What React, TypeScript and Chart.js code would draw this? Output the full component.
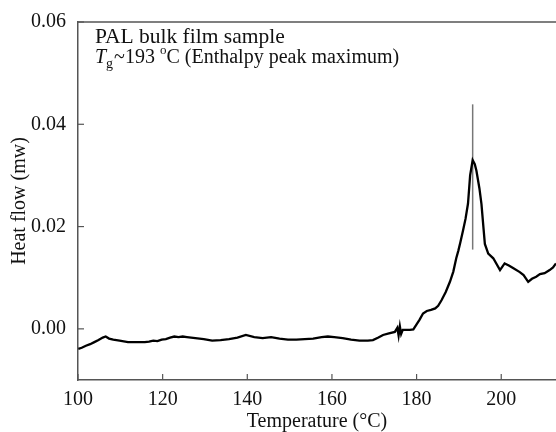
import React, { useEffect, useRef } from "react";
import { Chart, registerables } from "chart.js";

Chart.register(...registerables);

const temperature = [
  100.08, 100.88, 101.87, 102.87, 103.86, 104.85, 105.85, 106.54, 107.34, 108.33, 109.82, 111.81,
  113.8, 115.79, 116.79, 117.78, 118.77, 119.77, 120.76, 121.76, 122.75, 123.75, 124.74, 125.73,
  127.72, 129.71, 131.7, 133.69, 135.68, 137.67, 139.66, 141.64, 143.63, 145.62, 147.61, 149.6,
  151.59, 153.58, 155.56, 157.55, 159.04, 160.54, 162.53, 164.52, 166.5, 168.49, 169.69, 170.98,
  172.07, 173.47, 174.86, 175.45, 175.75, 176.05, 176.35, 176.74, 177.44, 178.43, 179.23, 179.92,
  180.72, 181.52, 182.41, 183.41, 184.4, 185.1, 185.89, 186.89, 187.88, 188.68, 189.37, 189.87,
  190.36, 190.96, 191.56, 192.15, 192.65, 193.25, 193.75, 194.14, 194.84, 195.33, 195.83, 196.13,
  196.93, 198.12, 199.71, 200.8, 201.8, 202.79, 204.38, 205.28, 206.37, 207.26, 208.26, 209.15,
  210.25, 211.44, 212.24, 212.94,
];

const heatFlow = [
  -0.0039, -0.0037, -0.0033, -0.003, -0.0026, -0.0022, -0.0017, -0.0015, -0.0019, -0.0021, -0.0023,
  -0.0026, -0.0026, -0.0026, -0.0025, -0.0023, -0.0024, -0.0021, -0.002, -0.0017, -0.0015, -0.0016,
  -0.0015, -0.0016, -0.0018, -0.002, -0.0023, -0.0022, -0.002, -0.0017, -0.0012, -0.0016, -0.0018,
  -0.0016, -0.0019, -0.0021, -0.0021, -0.002, -0.0019, -0.0016, -0.0015, -0.0016, -0.0018, -0.0021,
  -0.0023, -0.0023, -0.0022, -0.0017, -0.0012, -0.0009, -0.0006, 0.0002, -0.0013, 0.0005, -0.001,
  -0.0002, -0.0002, -0.0002, -0.0001, 0.0008, 0.0018, 0.003, 0.0035, 0.0037, 0.004, 0.0045, 0.0056,
  0.0072, 0.0092, 0.0112, 0.0138, 0.0153, 0.017, 0.0192, 0.0215, 0.0245, 0.03, 0.033, 0.0322,
  0.0309, 0.0275, 0.0244, 0.0195, 0.0166, 0.0147, 0.0138, 0.0115, 0.0128, 0.0124, 0.0119, 0.0111,
  0.0105, 0.0092, 0.0098, 0.0102, 0.0107, 0.0109, 0.0115, 0.012, 0.0128,
];

const peakMarkerX = [193.25, 193.25];
const peakMarkerY = [0.0155, 0.0439];

const xTicks = [100, 120, 140, 160, 180, 200];
const yTicks = [0.0, 0.02, 0.04, 0.06];

const annotationLine1 = "PAL bulk film sample";
const annotationT = "T";
const annotationSub = "g";
const annotationMid = "~193 ";
const annotationSup = "o";
const annotationEnd = "C (Enthalpy peak maximum)";

const FONT = '"Liberation Serif", "DejaVu Serif", serif';
const AXIS_COLOR = "#555";

const decoPlugin = {
  id: "deco",
  afterDraw(chart: any) {
    const { ctx, chartArea, scales } = chart;
    const { left, right, top, bottom } = chartArea;
    ctx.save();
    ctx.strokeStyle = AXIS_COLOR;
    ctx.lineWidth = 1.5;
    ctx.beginPath();
    ctx.moveTo(left, top);
    ctx.lineTo(right, top);
    ctx.stroke();
    ctx.lineWidth = 1.2;
    xTicks.forEach((t) => {
      const px = scales.x.getPixelForValue(t);
      ctx.beginPath();
      ctx.moveTo(px, bottom);
      ctx.lineTo(px, bottom - 6);
      ctx.stroke();
    });
    yTicks.forEach((t) => {
      const py = scales.y.getPixelForValue(t);
      ctx.beginPath();
      ctx.moveTo(left, py);
      ctx.lineTo(left + 6, py);
      ctx.stroke();
    });
    ctx.fillStyle = "#111";
    ctx.textBaseline = "alphabetic";
    ctx.textAlign = "left";
    const x0 = left + 17;
    ctx.font = `21.5px ${FONT}`;
    ctx.fillText(annotationLine1, x0, top + 21);
    let x = x0;
    const y2 = top + 41;
    ctx.font = `italic 20px ${FONT}`;
    ctx.fillText(annotationT, x, y2);
    x += ctx.measureText(annotationT).width;
    ctx.font = `14px ${FONT}`;
    ctx.fillText(annotationSub, x, y2 + 5);
    x += ctx.measureText(annotationSub).width + 1;
    ctx.font = `20px ${FONT}`;
    ctx.fillText(annotationMid, x, y2);
    x += ctx.measureText(annotationMid).width;
    ctx.font = `13px ${FONT}`;
    ctx.fillText(annotationSup, x, y2 - 9);
    x += ctx.measureText(annotationSup).width;
    ctx.font = `20px ${FONT}`;
    ctx.fillText(annotationEnd, x, y2);
    ctx.restore();
  },
};

export default function App() {
  const ref = useRef<HTMLCanvasElement | null>(null);
  useEffect(() => {
    if (!ref.current) return;
    const chart = new Chart(ref.current, {
      type: "scatter",
      data: {
        datasets: [
          {
            data: temperature.map((t, i) => ({ x: t, y: heatFlow[i] })),
            showLine: true,
            borderColor: "#000",
            borderWidth: 2.3,
            pointRadius: 0,
            tension: 0,
          },
          {
            data: peakMarkerX.map((t, i) => ({ x: t, y: peakMarkerY[i] })),
            showLine: true,
            borderColor: "#777",
            borderWidth: 1.5,
            pointRadius: 0,
          },
        ],
      },
      options: {
        animation: false,
        responsive: false,
        layout: { padding: { top: 22, left: 0, right: 0, bottom: 0 } },
        plugins: { legend: { display: false }, tooltip: { enabled: false } },
        scales: {
          x: {
            type: "linear",
            min: 100,
            max: 212.94,
            afterBuildTicks: (s: any) => {
              s.ticks = xTicks.map((v) => ({ value: v }));
            },
            afterFit: (s: any) => {
              s.height = 52;
            },
            grid: { display: false },
            border: { display: true, color: AXIS_COLOR, width: 1.5 },
            ticks: {
              color: "#111",
              padding: 0,
              maxRotation: 0,
              autoSkip: false,
              font: { family: FONT, size: 20 },
              callback: (v: any) => String(v),
            },
            title: {
              display: true,
              text: "Temperature (°C)",
              color: "#111",
              padding: { top: 0, bottom: 0 },
              font: { family: FONT, size: 20, lineHeight: 1 },
            },
          },
          y: {
            type: "linear",
            min: -0.01,
            max: 0.06,
            afterBuildTicks: (s: any) => {
              s.ticks = yTicks.map((v) => ({ value: v }));
            },
            afterFit: (s: any) => {
              s.width = 78;
            },
            grid: { display: false },
            border: { display: true, color: AXIS_COLOR, width: 1.5 },
            ticks: {
              color: "#111",
              padding: 4,
              autoSkip: false,
              font: { family: FONT, size: 20 },
              callback: (v: any) => Number(v).toFixed(2),
            },
            title: {
              display: true,
              text: "Heat flow (mw)",
              color: "#111",
              padding: { top: 8, bottom: 0 },
              font: { family: FONT, size: 20, lineHeight: 1.2 },
            },
          },
        },
      },
      plugins: [decoPlugin],
    });
    return () => chart.destroy();
  }, []);
  return (
    <div style={{ position: "absolute", left: 0, top: 0, width: 556, height: 432 }}>
      <canvas ref={ref} width={556} height={432} style={{ display: "block" }} />
    </div>
  );
}
